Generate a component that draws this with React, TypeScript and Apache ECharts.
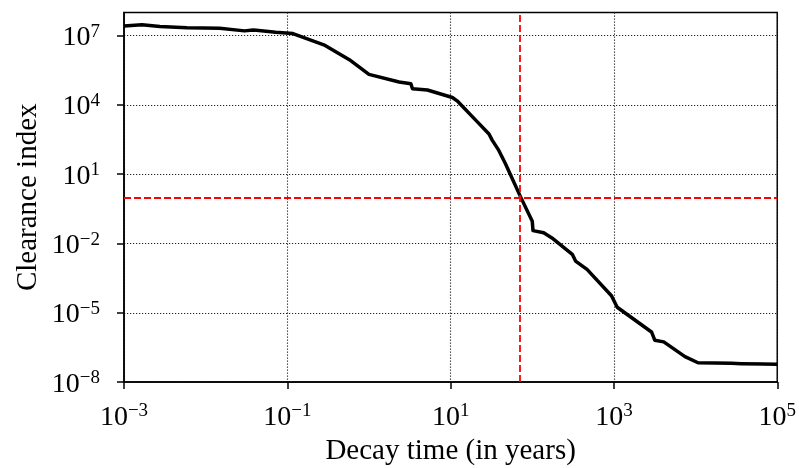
import React, { useEffect, useRef } from "react";
import * as echarts from "echarts";

// Decay time (years) and clearance index
const decayYears = [
  0.001, 0.00166, 0.00275, 0.0059, 0.0148, 0.03, 0.038, 0.072, 0.117, 0.28,
  0.575, 1.0, 2.34, 3.26, 3.41, 5.2, 10.5, 12.0, 21.4, 29.5, 32.4, 38.9,
  46.8, 71.6, 100, 102, 138, 174, 309, 339, 468, 933, 1096, 2884, 3162, 4074,
  7413, 10700, 27500, 36300, 100000,
];
const clearanceIndex = [
  2.6e7, 2.95e7, 2.45e7, 2.2e7, 2.1e7, 1.6e7, 1.75e7, 1.4e7, 1.23e7, 4.0e6,
  9.1e5, 2.1e5, 9.8e4, 8.3e4, 5.0e4, 4.4e4, 2.1e4, 1.5e4, 1.8e3, 550, 290, 107,
  29, 1.07, 0.091, 0.036, 0.029, 0.0174, 0.0034, 0.00174, 7.6e-4, 5.5e-5,
  1.74e-5, 1.48e-6, 6.5e-7, 5.5e-7, 1.26e-7, 6.9e-8, 6.5e-8, 6.3e-8, 5.9e-8,
];
const thresholdYears = 71;
const thresholdClearance = 1;
const xExponents = [-3, -1, 1, 3, 5];
const yExponents = [-8, -5, -2, 1, 4, 7];
const X_MIN_EXP = -3;
const X_MAX_EXP = 5;
const Y_MIN_EXP = -8;
const Y_MAX_EXP = 8;

const FONT = "'Liberation Serif', 'Times New Roman', serif";

const fmtExp = (e: number) => {
  const r = Math.round(e);
  const s = r < 0 ? "\u2212" + Math.abs(r) : String(r);
  return `{b|10}{s|${s}}`;
};

const rich = {
  b: { fontFamily: FONT, fontSize: 28, color: "#000", lineHeight: 30 },
  s: { fontFamily: FONT, fontSize: 19, color: "#000", lineHeight: 19, verticalAlign: "top" },
};

export default function App() {
  const ref = useRef<HTMLDivElement>(null);
  useEffect(() => {
    document.body.style.margin = "0";
    if (!ref.current) return;
    const chart = echarts.init(ref.current, undefined, { renderer: "svg" });
    const xs = (v: number) => Math.log10(v) - X_MIN_EXP;
    const ys = (v: number) => Math.log10(v) - Y_MIN_EXP;
    const data = decayYears.map((x, i) => [xs(x), ys(clearanceIndex[i])]);
    chart.setOption({
      animation: false,
      grid: {
        left: 124,
        right: 20,
        top: 12.5,
        bottom: 83,
        show: true,
        borderColor: "#000",
        borderWidth: 1.5,
        backgroundColor: "transparent",
      },
      xAxis: {
        type: "value",
        min: 0,
        max: X_MAX_EXP - X_MIN_EXP,
        interval: 2,
        name: "Decay time (in years)",
        nameLocation: "middle",
        nameGap: 50,
        nameTextStyle: { fontFamily: FONT, fontSize: 29, color: "#000" },
        axisLine: { show: true, onZero: false, lineStyle: { color: "#000", width: 1.5 } },
        axisTick: {
          show: true,
          inside: false,
          length: 7,
          lineStyle: { color: "#000", width: 1.5 },
          customValues: xExponents.map((e) => e - X_MIN_EXP),
        },
        axisLabel: {
          margin: 18,
          formatter: (v: number) => fmtExp(v + X_MIN_EXP),
          rich,
          customValues: xExponents.map((e) => e - X_MIN_EXP),
        },
        splitLine: { show: true, lineStyle: { color: "#222", width: 1.1, type: [1.2, 1.8] } },
      },
      yAxis: {
        type: "value",
        min: 0,
        max: Y_MAX_EXP - Y_MIN_EXP,
        interval: 3,
        name: "Clearance index",
        nameLocation: "middle",
        nameGap: 81,
        nameRotate: 90,
        nameTextStyle: { fontFamily: FONT, fontSize: 29, color: "#000" },
        axisLine: { show: true, onZero: false, lineStyle: { color: "#000", width: 1.5 } },
        axisTick: {
          show: true,
          inside: false,
          length: 7,
          lineStyle: { color: "#000", width: 1.5 },
          customValues: yExponents.map((e) => e - Y_MIN_EXP),
        },
        axisLabel: {
          margin: 24,
          formatter: (v: number) => fmtExp(v + Y_MIN_EXP),
          rich,
          customValues: yExponents.map((e) => e - Y_MIN_EXP),
        },
        splitLine: { show: true, lineStyle: { color: "#222", width: 1.1, type: [1.2, 1.8] } },
      },
      series: [
        {
          type: "line",
          data,
          symbol: "none",
          smooth: false,
          lineStyle: { color: "#000", width: 3.5, join: "round" },
          z: 3,
          markLine: {
            silent: true,
            symbol: "none",
            label: { show: false },
            lineStyle: { color: "#ff0000", width: 1.8, type: [7, 3] },
            data: [{ xAxis: xs(thresholdYears) }, { yAxis: ys(thresholdClearance) }],
          },
        },
      ],
    });
    return () => chart.dispose();
  }, []);
  return (
    <div
      ref={ref}
      style={{ position: "fixed", left: 0, top: 0, width: 799, height: 468 }}
    />
  );
}
